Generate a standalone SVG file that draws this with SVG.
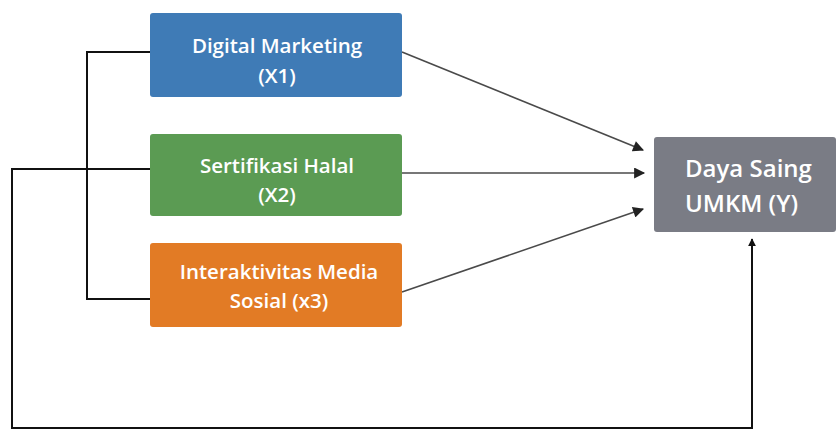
<svg xmlns="http://www.w3.org/2000/svg" width="840" height="431" viewBox="0 0 840 431">
  <style>
    .box { stroke: none; }
    .lbl { font-family: "Open Sans", "Liberation Sans", sans-serif; font-weight: 600; fill: #ffffff; text-anchor: middle; font-size: 20.5px; }
    .lbl-y { font-family: "Open Sans", "Liberation Sans", sans-serif; font-weight: 600; fill: #ffffff; font-size: 24px; }
    .arrow { stroke: #4a4a4a; stroke-width: 1.6; fill: none; }
    .link { stroke: #111111; stroke-width: 2; fill: none; }
  </style>
  <defs>
    <marker id="head" viewBox="0 0 10 10" refX="9" refY="5" markerWidth="12" markerHeight="11" markerUnits="userSpaceOnUse" orient="auto">
      <path d="M0,0 L10,5 L0,10 z" fill="#222222"/>
    </marker>
    <marker id="head-up" viewBox="0 0 10 10" refX="9" refY="5" markerWidth="8" markerHeight="8" markerUnits="userSpaceOnUse" orient="auto">
      <path d="M0,0 L10,5 L0,10 z" fill="#111111"/>
    </marker>
  </defs>
  <rect width="840" height="431" fill="#ffffff"/>

  <g id="connectors">
    <!-- bracket joining X1 and X3 -->
    <polyline class="link" points="157,52 87,52 87,299 157,299"/>
    <!-- loop from X2 to Y -->
    <polyline class="link" points="157,169 12,169 12,428 752,428 752,239" marker-end="url(#head-up)"/>
    <!-- direct paths to Y -->
    <line class="arrow" x1="402" y1="52" x2="643" y2="150" marker-end="url(#head)"/>
    <line class="arrow" x1="402" y1="173" x2="644" y2="173" marker-end="url(#head)"/>
    <line class="arrow" x1="402" y1="292" x2="643" y2="209" marker-end="url(#head)"/>
  </g>

  <g id="x1">
    <rect class="box" x="150" y="13" width="252" height="84" rx="3" fill="#3f7bb6"/>
    <text class="lbl" x="277" y="53">Digital Marketing</text>
    <text class="lbl" x="277" y="83">(X1)</text>
  </g>

  <g id="x2">
    <rect class="box" x="150" y="134" width="252" height="82" rx="3" fill="#5b9b53"/>
    <text class="lbl" x="277" y="173">Sertifikasi Halal</text>
    <text class="lbl" x="277" y="202">(X2)</text>
  </g>

  <g id="x3">
    <rect class="box" x="150" y="243" width="252" height="84" rx="3" fill="#e27b25"/>
    <text class="lbl" x="279" y="279">Interaktivitas Media</text>
    <text class="lbl" x="279" y="308">Sosial (x3)</text>
  </g>

  <g id="y">
    <rect class="box" x="654" y="137" width="182" height="95" rx="3" fill="#7a7c85"/>
    <text class="lbl-y" x="685" y="177">Daya Saing</text>
    <text class="lbl-y" x="685" y="212">UMKM (Y)</text>
  </g>
</svg>
